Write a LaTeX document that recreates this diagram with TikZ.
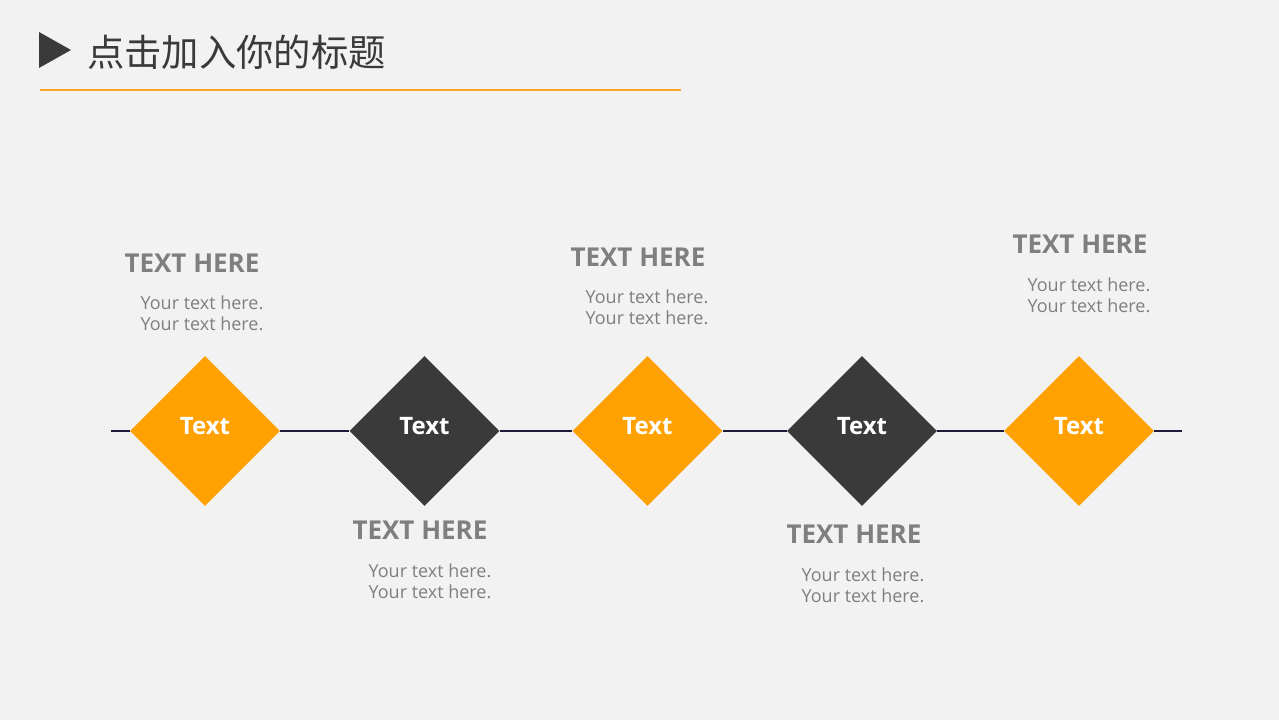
\documentclass[tikz,border=0pt]{standalone}
\usepackage{fontspec}
\setmainfont{Open Sans}
\newfontfamily\cjk{Noto Sans CJK SC}
\usetikzlibrary{shapes.geometric}
\definecolor{bg}{HTML}{F2F2F2}
\definecolor{orng}{HTML}{FFA100}
\definecolor{lineorng}{HTML}{F5A623}
\definecolor{dark}{HTML}{3A3A3A}
\definecolor{txtgray}{HTML}{7F7F7F}
\definecolor{navy}{HTML}{1C1C3A}
\tikzset{
  dia/.style={diamond,aspect=1,inner sep=0pt,minimum width=112.5pt,minimum height=112.5pt,
    text=white,font=\bfseries\fontsize{18pt}{20pt}\selectfont},
  head/.style={text=txtgray,font=\bfseries\fontsize{19.5pt}{22pt}\selectfont},
  body/.style={text=txtgray,align=center,font=\fontsize{13.5pt}{15.75pt}\selectfont}
}
\newcommand{\dtext}{\raisebox{7.5pt}{Text}}
\begin{document}
\begin{tikzpicture}[x=0.75pt,y=-0.75pt]
\useasboundingbox[fill=bg] (0,0) rectangle (1279,720);
% title
\fill[dark] (39,32) -- (39,68) -- (71,50) -- cycle;
\node[anchor=west,inner sep=0pt,text=dark,font=\cjk\fontsize{28pt}{32pt}\selectfont] (title) at (87,52) {点击加入你的标题};
\coordinate (ul) at (40,90);
\coordinate (ur) at (681,90);
\draw[lineorng,line width=0.8pt] (ul) -- (ur);
% diamonds
\node[dia,fill=orng] (d1) at (205,431) {\dtext};
\node[dia,fill=dark] (d2) at (424.5,431) {\dtext};
\node[dia,fill=orng] (d3) at (647.5,431) {\dtext};
\node[dia,fill=dark] (d4) at (862,431) {\dtext};
\node[dia,fill=orng] (d5) at (1079,431) {\dtext};
\coordinate (la) at (111,431);
\coordinate (lb) at (1182,431);
\draw[navy,line width=0.9pt] (la) -- (d1.west) (d1.east) -- (d2.west) (d2.east) -- (d3.west) (d3.east) -- (d4.west) (d4.east) -- (d5.west) (d5.east) -- (lb);
% labels
\node[head] (h1) at (192,263) {TEXT HERE};
\node[body] (b1) at (202,313.5) {Your text here.\\Your text here.};
\node[head] (h2) at (420,530) {TEXT HERE};
\node[body] (b2) at (430,581.5) {Your text here.\\Your text here.};
\node[head] (h3) at (638,257) {TEXT HERE};
\node[body] (b3) at (647,307.5) {Your text here.\\Your text here.};
\node[head] (h4) at (854,534) {TEXT HERE};
\node[body] (b4) at (863,585.5) {Your text here.\\Your text here.};
\node[head] (h5) at (1080,244) {TEXT HERE};
\node[body] (b5) at (1089,295) {Your text here.\\Your text here.};
\end{tikzpicture}
\end{document}
